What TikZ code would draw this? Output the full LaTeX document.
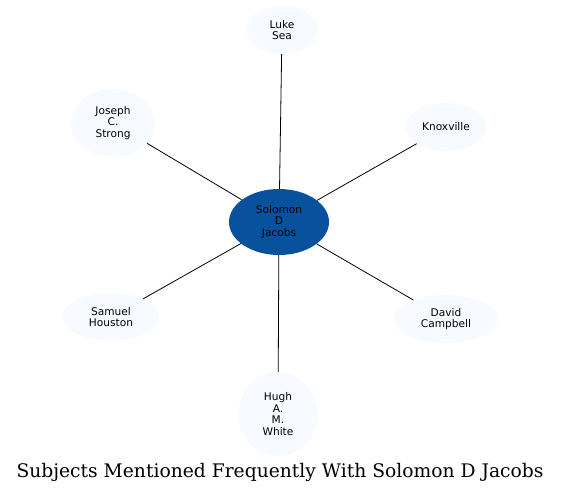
\documentclass[tikz,border=0pt]{standalone}
\usepackage{fontspec}
\setmainfont{DejaVu Serif}
\newfontfamily\nodefont{DejaVu Sans}
\usetikzlibrary{shapes.geometric}
\definecolor{hubblue}{HTML}{08519C}
\definecolor{leafblue}{HTML}{F7FBFF}
\tikzset{
  subject/.style={ellipse, draw=none, fill=leafblue, inner sep=0pt,
    align=center, font=\nodefont\fontsize{10.6}{11.8}\selectfont},
  hub/.style={subject, fill=hubblue},
  link/.style={draw=black, line width=0.8pt}
}
\begin{document}
\begin{tikzpicture}[x=1pt,y=1pt]
  \useasboundingbox (0,0) rectangle (561,492);

  % centre and the subjects round it
  \node[hub, minimum width=100, minimum height=66] (jacobs) at (279,270) {Solomon\\D\\Jacobs};
  \node[subject, minimum width=72, minimum height=48] (luke) at (282,462) {Luke\\Sea};
  \node[subject, minimum width=84, minimum height=68] (joseph) at (113,369) {Joseph\\C.\\Strong};
  \node[subject, minimum width=81, minimum height=48] (knox) at (446,365) {Knoxville};
  \node[subject, minimum width=96, minimum height=48] (samuel) at (111,175) {Samuel\\Houston};
  \node[subject, minimum width=104, minimum height=48] (david) at (446,173) {David\\Campbell};
  \node[subject, minimum width=79, minimum height=84] (hugh) at (278,78) {Hugh\\A.\\M.\\White};

  \foreach \n in {luke,joseph,knox,samuel,david,hugh}
    \draw[link] (jacobs) -- (\n);

  \node[font=\fontsize{18.7}{22}\selectfont] (title) at (280,20)
    {Subjects Mentioned Frequently With Solomon D Jacobs};
\end{tikzpicture}
\end{document}
